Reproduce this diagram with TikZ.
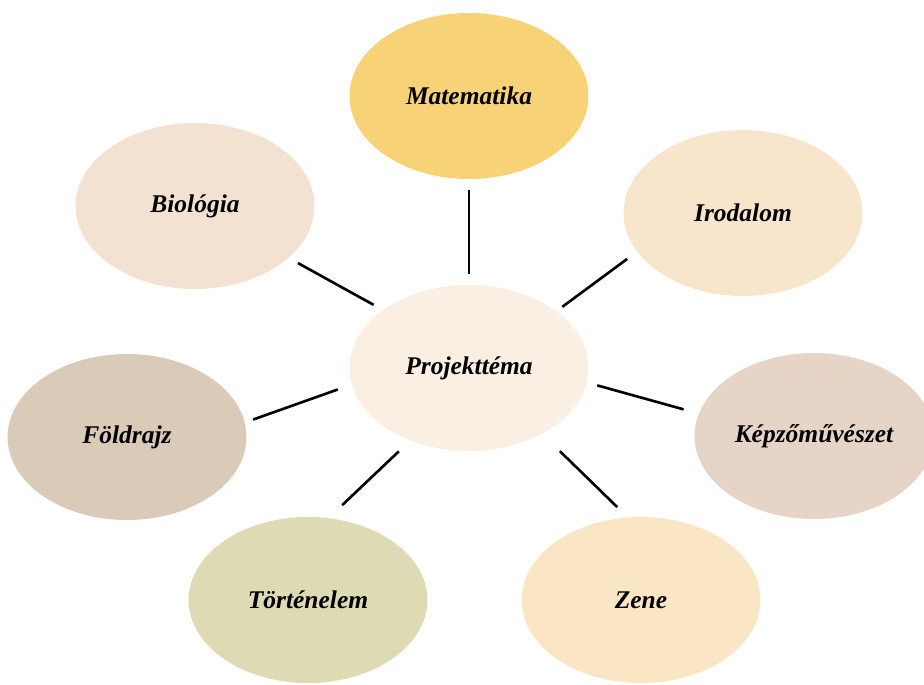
\documentclass[tikz,border=0pt]{standalone}
\usepackage{fontspec}
\setmainfont{Liberation Serif}
\usepackage{xcolor}
\usepackage{tikz}
\usetikzlibrary{shapes.geometric}
\definecolor{matfill}{RGB}{248,210,118}
\definecolor{biofill}{RGB}{243,225,210}
\definecolor{irofill}{RGB}{247,230,203}
\definecolor{projfill}{RGB}{251,238,227}
\definecolor{foldfill}{RGB}{217,203,184}
\definecolor{kepfill}{RGB}{230,213,198}
\definecolor{tortfill}{RGB}{222,218,179}
\definecolor{zenefill}{RGB}{250,229,196}
\tikzset{
  topic/.style={ellipse,draw=none,inner sep=0pt,outer sep=0pt,
                minimum width=4.78cm,minimum height=3.32cm,
                font=\fontsize{14.5}{17}\selectfont\bfseries\itshape},
  spoke/.style={line width=1.5pt,black},
}
\begin{document}
\begin{tikzpicture}[x=0.02cm,y=-0.02cm]
\useasboundingbox (0,0) rectangle (924,684);

%% ---------- centre ----------
\node[topic,fill=projfill] (proj) at (469,368) {Projekttéma};

%% ---------- subjects around ----------
\node[topic,fill=matfill]  (mat)  at (469,96)  {Matematika};
\node[topic,fill=biofill]  (bio)  at (195,206) {Biológia};
\node[topic,fill=irofill]  (iro)  at (743,213) {Irodalom};
\node[topic,fill=foldfill] (fold) at (127,437) {Földrajz};
\node[topic,fill=kepfill]  (kep)  at (814,436) {Képzőművészet};
\node[topic,fill=tortfill] (tort) at (308,600) {Történelem};
\node[topic,fill=zenefill] (zene) at (641,600) {Zene};

%% spokes (not touching the ellipses)
\draw[spoke,shorten <=0.22cm,shorten >=0.22cm] (proj.90)   -- (mat.-90);
\draw[spoke,shorten <=0.22cm,shorten >=0.22cm] (proj.146)  -- (bio.-29);
\draw[spoke,shorten <=0.15cm,shorten >=0.25cm] (proj.33)   -- (iro.-160);
\draw[spoke,shorten <=0.22cm,shorten >=0.32cm] (proj.-7)   -- (kep.169);
\draw[spoke,shorten <=0.30cm,shorten >=0.18cm] (proj.-172) -- (fold.7);
\draw[spoke,shorten <=0.32cm,shorten >=0.38cm] (proj.-129) -- (tort.76);
\draw[spoke,shorten <=0.50cm,shorten >=0.30cm] (proj.-42)  -- (zene.99);
\end{tikzpicture}
\end{document}
